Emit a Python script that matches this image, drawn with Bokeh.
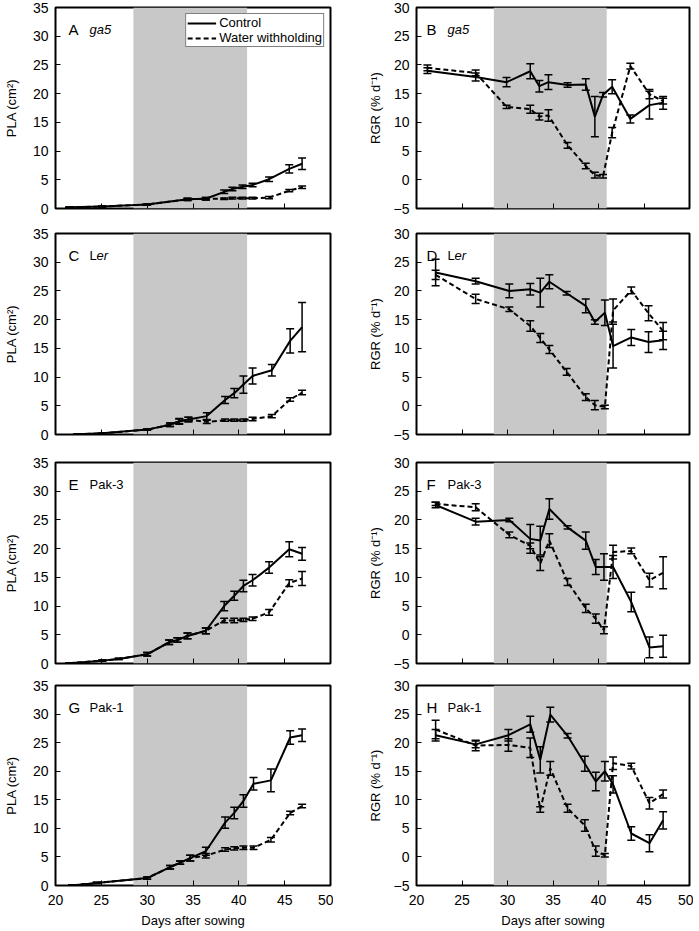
from bokeh.plotting import figure
from bokeh.models import (Range1d, BoxAnnotation, Whisker, TeeHead, ColumnDataSource,
                          Label, Legend, LegendItem, FixedTicker)
from bokeh.layouts import column, row
from bokeh.embed import file_html
from bokeh.resources import INLINE

# ---------------- data ----------------
x_ticks = [20, 25, 30, 35, 40, 45, 50]
pla_ticks = [0, 5, 10, 15, 20, 25, 30, 35]
rgr_ticks = [-5, 0, 5, 10, 15, 20, 25, 30]
drought_start = 28.5
drought_end = 40.9

# A: PLA ga5
a_day = [21.5, 25.1, 30.0, 34.4, 36.4, 38.4, 39.3, 40.4, 41.5, 43.3, 45.5, 46.9]
a_ctrl = [0.2, 0.35, 0.7, 1.6, 1.7, 2.9, 3.4, 3.8, 4.1, 5.1, 6.9, 7.8]
a_ctrl_err = [0.05, 0.1, 0.1, 0.2, 0.2, 0.3, 0.3, 0.3, 0.3, 0.4, 0.7, 1.0]
a_wet = [0.2, 0.35, 0.7, 1.6, 1.7, 1.7, 1.8, 1.8, 1.8, 1.9, 3.1, 3.7]
a_wet_err = [0.05, 0.1, 0.1, 0.2, 0.2, 0.15, 0.15, 0.15, 0.15, 0.2, 0.2, 0.2]

# B: RGR ga5
b_day = [21.2, 26.5, 29.9, 32.5, 33.5, 34.5, 36.6, 38.6, 39.6, 40.5, 41.5, 43.5, 45.6, 47.1]
b_ctrl = [19.0, 17.9, 17.0, 18.9, 16.3, 17.0, 16.5, 16.6, 11.0, 14.8, 16.2, 10.6, 13.0, 13.4]
b_ctrl_err = [0.5, 0.7, 0.8, 1.3, 1.0, 1.3, 0.4, 1.0, 3.5, 0.4, 1.2, 0.7, 2.4, 1.1]
b_wet = [19.5, 18.6, 12.7, 12.3, 11.0, 11.2, 6.0, 2.4, 0.8, 0.6, 8.2, 19.8, 14.9, 13.7]
b_wet_err = [0.5, 0.5, 0.3, 0.7, 0.6, 1.0, 0.5, 0.5, 0.5, 0.3, 0.9, 0.5, 0.8, 0.5]

# C: PLA Ler
c_day = [22.4, 25.1, 30.0, 32.5, 33.5, 34.5, 36.5, 38.5, 39.5, 40.5, 41.5, 43.6, 45.6, 46.9]
c_ctrl = [0.05, 0.2, 0.85, 1.7, 2.3, 2.6, 3.2, 6.0, 7.2, 8.7, 10.2, 11.2, 16.3, 18.7]
c_ctrl_err = [0.02, 0.05, 0.1, 0.3, 0.5, 0.4, 0.6, 0.6, 0.8, 1.5, 1.4, 1.0, 2.1, 4.3]
c_wet = [0.05, 0.2, 0.85, 1.7, 2.3, 2.6, 2.2, 2.5, 2.5, 2.5, 2.7, 3.2, 6.1, 7.3]
c_wet_err = [0.02, 0.05, 0.1, 0.3, 0.4, 0.4, 0.3, 0.2, 0.2, 0.2, 0.3, 0.3, 0.3, 0.4]

# D: RGR Ler
d_day = [22.1, 26.5, 30.2, 32.5, 33.6, 34.6, 36.5, 38.6, 39.6, 40.7, 41.6, 43.6, 45.5, 47.1]
d_ctrl = [23.2, 21.7, 20.0, 20.3, 19.7, 21.6, 19.6, 17.4, 14.6, 16.2, 10.4, 11.9, 11.1, 11.4]
d_ctrl_err = [2.3, 0.5, 1.2, 1.0, 2.5, 1.2, 0.3, 1.2, 0.4, 2.2, 3.8, 1.4, 1.8, 1.6]
d_wet = [22.8, 18.6, 16.8, 13.9, 11.8, 9.8, 5.9, 1.5, 0.1, -0.2, 16.6, 20.1, 16.1, 13.0]
d_wet_err = [0.8, 0.8, 0.4, 0.9, 0.8, 0.7, 0.6, 0.6, 0.8, 0.3, 2.0, 0.6, 1.3, 1.5]

# E: PLA Pak-3
e_day = [21.5, 25.1, 26.9, 30.0, 32.4, 33.3, 34.4, 36.4, 38.4, 39.5, 40.5, 41.5, 43.3, 45.5, 46.9]
e_ctrl = [0.05, 0.5, 0.8, 1.6, 3.7, 4.1, 4.8, 5.7, 10.0, 11.8, 13.5, 14.5, 16.7, 19.9, 19.1]
e_ctrl_err = [0.02, 0.1, 0.1, 0.3, 0.4, 0.4, 0.5, 0.5, 0.8, 0.8, 1.0, 1.0, 1.0, 1.3, 1.1]
e_wet = [0.05, 0.5, 0.8, 1.6, 3.7, 4.1, 4.8, 5.7, 7.5, 7.5, 7.6, 7.8, 8.9, 14.0, 14.8]
e_wet_err = [0.02, 0.1, 0.1, 0.3, 0.4, 0.4, 0.5, 0.5, 0.4, 0.4, 0.3, 0.3, 0.5, 0.6, 1.2]

# F: RGR Pak-3
f_day = [22.1, 26.5, 30.2, 32.5, 33.6, 34.6, 36.6, 38.6, 39.7, 40.6, 41.6, 43.6, 45.6, 47.1]
f_ctrl = [22.6, 19.7, 20.0, 16.7, 16.4, 21.9, 18.7, 16.4, 11.8, 11.8, 11.8, 5.7, -2.2, -2.0]
f_ctrl_err = [0.5, 0.6, 0.3, 2.5, 2.5, 1.8, 0.3, 1.5, 1.3, 2.3, 2.0, 1.7, 1.8, 1.9]
f_wet = [22.8, 22.2, 17.4, 15.5, 12.4, 16.4, 9.2, 4.6, 2.8, 0.8, 14.4, 14.6, 9.5, 10.8]
f_wet_err = [0.3, 0.6, 0.5, 0.5, 1.2, 1.2, 0.6, 0.7, 0.8, 0.6, 1.2, 0.5, 1.2, 2.8]

# G: PLA Pak-1
g_day = [21.8, 23.3, 24.5, 30.0, 32.5, 33.6, 34.7, 36.4, 38.5, 39.5, 40.5, 41.6, 43.5, 45.6, 46.9]
g_ctrl = [0.05, 0.2, 0.45, 1.3, 3.2, 4.0, 4.8, 6.0, 11.0, 12.7, 14.8, 17.8, 18.4, 25.9, 26.3]
g_ctrl_err = [0.02, 0.05, 0.1, 0.2, 0.3, 0.3, 0.5, 0.7, 1.0, 1.0, 1.1, 1.1, 2.0, 1.2, 1.1]
g_wet = [0.05, 0.2, 0.45, 1.3, 3.2, 4.0, 4.8, 5.2, 6.3, 6.5, 6.6, 6.6, 8.0, 12.7, 13.9]
g_wet_err = [0.02, 0.05, 0.1, 0.2, 0.3, 0.3, 0.5, 0.4, 0.3, 0.3, 0.3, 0.3, 0.4, 0.3, 0.3]

# H: RGR Pak-1
h_day = [22.1, 26.5, 30.1, 32.5, 33.6, 34.7, 36.6, 38.5, 39.7, 40.7, 41.6, 43.6, 45.6, 47.1]
h_ctrl = [21.3, 19.7, 21.3, 23.2, 17.0, 24.9, 21.2, 16.3, 13.2, 15.0, 12.7, 4.1, 2.4, 6.4]
h_ctrl_err = [1.0, 0.6, 1.0, 1.4, 2.3, 1.3, 0.4, 1.3, 1.6, 1.7, 1.5, 1.2, 1.5, 1.5]
h_wet = [22.3, 19.5, 19.6, 19.1, 8.3, 15.5, 8.5, 5.5, 1.0, 0.3, 16.4, 15.9, 9.4, 11.0]
h_wet_err = [1.6, 0.9, 1.1, 1.7, 0.5, 1.2, 0.7, 1.0, 0.9, 0.3, 1.1, 0.5, 1.0, 0.7]

# ---------------- layout / style ----------------
FONT = "Liberation Sans"
FRAME_H = 201
X0, X1 = 20, 50
# (border_top, border_bottom) per row
ROW_BORDERS = [(7, 17), (8, 20), (8, 14), (8, 44)]


def make_panel(days, ctrl, ctrl_err, wet, wet_err, letter, name_parts, kind,
               row_idx, left_col, legend=False):
    if kind == "PLA":
        y0, y1, yt, ylabel = 0, 35, pla_ticks, "PLA (cm\u00b2)"
    else:
        y0, y1, yt, ylabel = -5, 30, rgr_ticks, "RGR (% d\u207b\u00b9)"
    bottom_row = row_idx == 3
    frame_w = 275 if left_col else 273
    mb_left = 55 if left_col else 83
    mb_right = 3 if left_col else 4
    mb_top, mb_bottom = ROW_BORDERS[row_idx]
    p = figure(width=mb_left + frame_w + mb_right, height=mb_top + FRAME_H + mb_bottom,
               x_range=Range1d(X0, X1), y_range=Range1d(y0, y1),
               output_backend="svg", toolbar_location=None,
               min_border_left=mb_left, min_border_right=mb_right,
               min_border_top=mb_top, min_border_bottom=mb_bottom,
               background_fill_color="white", border_fill_color="white")
    p.grid.visible = False
    p.outline_line_color = "black"
    p.outline_line_width = 2
    p.outline_line_alpha = 1

    for ax in (p.xaxis[0], p.yaxis[0]):
        ax.axis_line_color = None
        ax.major_tick_in = 5
        ax.major_tick_out = 0
        ax.minor_tick_line_color = None
        ax.major_tick_line_color = "black"
        ax.major_tick_line_width = 1
        ax.major_label_text_font = FONT
        ax.major_label_text_font_size = "14px"
        ax.major_label_text_color = "black"
        ax.axis_label_text_font = FONT
        ax.axis_label_text_font_size = "13px"
        ax.axis_label_text_font_style = "normal"
        ax.axis_label_text_color = "black"

    p.xaxis.ticker = FixedTicker(ticks=x_ticks)
    p.yaxis.ticker = FixedTicker(ticks=yt)
    p.yaxis.major_label_standoff = 7
    p.yaxis.axis_label = ylabel
    p.yaxis.axis_label_standoff = 11 if left_col else 8
    if kind == "RGR":
        p.yaxis.major_label_overrides = {-5: "\u22125"}
    if bottom_row:
        p.xaxis.major_label_standoff = 9
        p.xaxis.axis_label = "Days after sowing"
        p.xaxis.axis_label_standoff = 5
    else:
        p.xaxis.major_label_text_color = None
        p.xaxis.major_label_standoff = 0

    p.add_layout(BoxAnnotation(left=drought_start, right=drought_end,
                               fill_color="#c8c8c8", fill_alpha=1.0,
                               line_color=None, level="underlay"))

    lo_c = [v - e for v, e in zip(ctrl, ctrl_err)]
    hi_c = [v + e for v, e in zip(ctrl, ctrl_err)]
    lo_w = [v - e for v, e in zip(wet, wet_err)]
    hi_w = [v + e for v, e in zip(wet, wet_err)]
    src_c = ColumnDataSource(dict(x=days, y=ctrl, lo=lo_c, hi=hi_c))
    src_w = ColumnDataSource(dict(x=days, y=wet, lo=lo_w, hi=hi_w))

    wet_line = p.line("x", "y", source=src_w, line_color="black", line_width=2,
                      line_dash="5 3")
    ctrl_line = p.line("x", "y", source=src_c, line_color="black", line_width=2)
    for src in (src_w, src_c):
        p.add_layout(Whisker(base="x", upper="hi", lower="lo", source=src,
                             line_color="black", line_width=1.5,
                             upper_head=TeeHead(size=8, line_width=1.5, line_color="black"),
                             lower_head=TeeHead(size=8, line_width=1.5, line_color="black")))

    # panel letter and genotype name
    xs = (X1 - X0) / frame_w
    ys = (y1 - y0) / FRAME_H
    lx = 13 if left_col else 10
    nx = 34 if left_col else 31
    yb = y1 - 22 * ys
    p.add_layout(Label(x=X0 + lx * xs, y=yb, text=letter, text_font=FONT,
                       text_font_size="15px", text_color="black",
                       text_baseline="alphabetic"))
    off = nx
    for txt, style, w in name_parts:
        p.add_layout(Label(x=X0 + off * xs, y=yb, text=txt, text_font=FONT,
                           text_font_size="13px", text_font_style=style,
                           text_color="black", text_baseline="alphabetic"))
        off += w

    if legend:
        lg = Legend(items=[LegendItem(label="Control", renderers=[ctrl_line]),
                           LegendItem(label="Water withholding", renderers=[wet_line])],
                    location="top_right")
        lg.label_text_font = FONT
        lg.label_text_font_size = "13px"
        lg.label_text_color = "black"
        lg.border_line_color = "black"
        lg.border_line_width = 1
        lg.background_fill_color = "white"
        lg.background_fill_alpha = 1
        lg.padding = 1
        lg.margin = 6
        lg.spacing = 0
        lg.glyph_width = 29
        lg.glyph_height = 14
        lg.label_height = 14
        lg.label_standoff = 3
        p.add_layout(lg)
    return p


ga5 = [("ga5", "italic", 0)]
ler = [("L", "normal", 7), ("er", "italic", 0)]
pak3 = [("Pak-3", "normal", 0)]
pak1 = [("Pak-1", "normal", 0)]

pA = make_panel(a_day, a_ctrl, a_ctrl_err, a_wet, a_wet_err, "A", ga5, "PLA", 0, True, legend=True)
pB = make_panel(b_day, b_ctrl, b_ctrl_err, b_wet, b_wet_err, "B", ga5, "RGR", 0, False)
pC = make_panel(c_day, c_ctrl, c_ctrl_err, c_wet, c_wet_err, "C", ler, "PLA", 1, True)
pD = make_panel(d_day, d_ctrl, d_ctrl_err, d_wet, d_wet_err, "D", ler, "RGR", 1, False)
pE = make_panel(e_day, e_ctrl, e_ctrl_err, e_wet, e_wet_err, "E", pak3, "PLA", 2, True)
pF = make_panel(f_day, f_ctrl, f_ctrl_err, f_wet, f_wet_err, "F", pak3, "RGR", 2, False)
pG = make_panel(g_day, g_ctrl, g_ctrl_err, g_wet, g_wet_err, "G", pak1, "PLA", 3, True)
pH = make_panel(h_day, h_ctrl, h_ctrl_err, h_wet, h_wet_err, "H", pak1, "RGR", 3, False)

layout = column(row(pA, pB), row(pC, pD), row(pE, pF), row(pG, pH), spacing=0)

open("out.html", "w").write(file_html(layout, INLINE))
